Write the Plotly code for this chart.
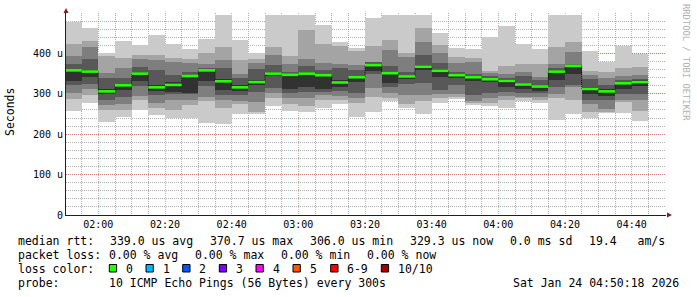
import plotly.graph_objects as go
import pandas as pd

# ---------------- data (values in microseconds) ----------------
end_times = ["01:55", "02:00", "02:05", "02:10", "02:15", "02:20", "02:25", "02:30",
             "02:35", "02:40", "02:45", "02:50", "02:55", "03:00", "03:05", "03:10",
             "03:15", "03:20", "03:25", "03:30", "03:35", "03:40", "03:45", "03:50",
             "03:55", "04:00", "04:05", "04:10", "04:15", "04:20", "04:25", "04:30",
             "04:35", "04:40", "04:45"]

# sorted ping ranks (1 = fastest, 10 = slowest)
ping_1 = [258, 278, 231, 243, 260, 247, 241, 240, 228, 225, 250, 250, 269, 258, 255, 266, 276, 243,
          255, 281, 264, 250, 278, 286, 272, 269, 266, 283, 278, 236, 251, 239, 253, 253, 233]
ping_2 = [286, 297, 260, 261, 284, 266, 260, 272, 283, 264, 275, 256, 290, 275, 270, 285, 285, 278,
          292, 290, 276, 283, 290, 292, 278, 278, 284, 290, 285, 290, 285, 256, 256, 280, 258]
ping_3 = [301, 311, 272, 274, 294, 278, 284, 284, 291, 285, 283, 280, 302, 290, 290, 297, 294, 289,
          315, 301, 297, 297, 300, 300, 283, 290, 294, 293, 293, 300, 316, 276, 262, 284, 284]
ping_4 = [321, 324, 284, 291, 320, 296, 299, 299, 320, 297, 297, 305, 315, 303, 305, 305, 307, 302,
          350, 318, 325, 326, 309, 321, 297, 302, 305, 301, 302, 318, 323, 284, 285, 300, 299]
ping_5 = [332, 342, 299, 309, 332, 307, 305, 303, 332, 309, 307, 322, 345, 311, 316, 311, 318, 330,
          357, 327, 337, 360, 342, 338, 332, 328, 318, 311, 308, 335, 349, 299, 294, 311, 319]
ping_6 = [360, 358, 313, 324, 355, 322, 329, 342, 360, 336, 322, 335, 355, 350, 353, 349, 335, 345,
          375, 355, 347, 371, 362, 349, 345, 340, 336, 327, 322, 360, 372, 316, 311, 328, 333]
ping_7 = [373, 385, 338, 338, 367, 360, 346, 353, 365, 363, 338, 362, 371, 355, 370, 360, 365, 360,
          378, 368, 355, 396, 377, 355, 350, 345, 340, 345, 335, 365, 373, 336, 322, 334, 337]
ping_8 = [393, 416, 352, 363, 385, 383, 379, 377, 375, 384, 350, 377, 395, 375, 385, 377, 375, 371,
          379, 408, 392, 429, 400, 376, 379, 352, 350, 353, 342, 374, 404, 346, 338, 344, 346]
ping_9 = [424, 430, 394, 389, 396, 396, 389, 385, 400, 416, 383, 387, 415, 393, 458, 424, 418, 406,
          418, 433, 400, 462, 420, 391, 388, 357, 368, 375, 375, 416, 429, 357, 355, 363, 367]
ping_10 = [478, 462, 401, 430, 420, 445, 424, 410, 435, 495, 433, 400, 495, 495, 495, 470, 429, 414,
           488, 496, 496, 496, 451, 414, 410, 441, 467, 423, 410, 496, 496, 407, 378, 419, 398]
median = [358, 355, 306, 321, 350, 316, 322, 344, 358, 331, 316, 329, 350, 347, 350, 346, 328, 341,
          371, 351, 343, 367, 357, 346, 341, 336, 332, 323, 318, 355, 369, 312, 306, 326, 329]

y_tick_vals = [0, 100, 200, 300, 400]
y_tick_text = ["0", "100 u", "200 u", "300 u", "400 u"]

legend_rtt = ["339.0 us avg", "370.7 us max", "306.0 us min", "329.3 us now", "0.0 ms sd", "19.4   am/s"]
legend_loss = ["0.00 % avg", "0.00 % max", "0.00 % min", "0.00 % now"]
loss_labels = ["0", "1", "2", "3", "4", "5", "6-9", "10/10"]
loss_colors = ["#26ff00", "#00b8ff", "#0059ff", "#7e00ff", "#ff00ff", "#ff5500", "#ff0000", "#a10000"]
probe_text = "10 ICMP Echo Pings (56 Bytes) every 300s"
stamp_text = "Sat Jan 24 04:50:18 2026"

# ---------------- figure ----------------
DAY = "2026-01-24 "
ends = pd.to_datetime([DAY + t for t in end_times])
starts = ends - pd.Timedelta(minutes=5)
STEP_MS = 300000

pings = [ping_1, ping_2, ping_3, ping_4, ping_5, ping_6, ping_7, ping_8, ping_9, ping_10]
smoke_colors = ["#cacaca", "#a4a4a4", "#7e7e7e", "#585858", "#323232"]

fig = go.Figure()
for i in range(5):
    lo = pings[i]
    hi = pings[9 - i]
    fig.add_trace(go.Bar(
        x=ends, base=lo, y=[h - l for h, l in zip(hi, lo)],
        width=STEP_MS, offset=-STEP_MS,
        marker=dict(color=smoke_colors[i], line=dict(width=0)),
        hoverinfo="skip", showlegend=False))

# dotted median steps (vertical connectors)
sx, sy = [], []
for k in range(len(median) - 1):
    sx += [ends[k], ends[k], None]
    sy += [median[k], median[k + 1], None]
fig.add_trace(go.Scatter(x=sx, y=sy, mode="lines",
                         line=dict(color="#101010", width=1, dash="1px,1px"),
                         hoverinfo="skip", showlegend=False))

# median bands (loss colour 0)
gx, gy = [], []
for k in range(len(median)):
    gx += [starts[k], ends[k], None]
    gy += [median[k], median[k], None]
fig.add_trace(go.Scatter(x=gx, y=gy, mode="lines",
                         line=dict(color=loss_colors[0], width=2.6),
                         hoverinfo="skip", showlegend=False))

L, T, W, H = 66, 13, 600, 202
FIGW, FIGH = 697, 297


def px(x):
    return (x - L) / W


def py(y):
    return (T + H - y) / H


MONO = "DejaVu Sans Mono"
GRID = "rgba(143,143,143,0.7)"
MGRID = "rgba(222,79,79,0.55)"
AXIS = "#1f1f1f"
ARROW = "#801f1f"

fig.update_layout(
    width=FIGW, height=FIGH,
    margin=dict(l=L, r=FIGW - L - W, t=T, b=FIGH - T - H),
    paper_bgcolor="white", plot_bgcolor="white",
    barmode="overlay", bargap=0,
    showlegend=False,
    font=dict(family=MONO, color="#000000", size=10),
)

fig.update_xaxes(
    type="date",
    range=[DAY + "01:50:18", DAY + "04:50:18"],
    tickformat="%H:%M", tick0=DAY + "02:00", dtick=1200000,
    showgrid=True, gridcolor=MGRID, griddash="1px,1px", gridwidth=1,
    minor=dict(dtick=STEP_MS, tick0=DAY + "02:00", showgrid=True,
               gridcolor=GRID, griddash="1px,1px", gridwidth=1),
    showline=True, linecolor=AXIS, linewidth=1,
    ticks="", tickfont=dict(family=MONO, size=10, color="#000000"),
    zeroline=False, fixedrange=True,
)
fig.update_yaxes(
    range=[0, 500],
    tickmode="array", tickvals=y_tick_vals, ticktext=y_tick_text,
    showgrid=True, gridcolor=MGRID, griddash="1px,1px", gridwidth=1,
    minor=dict(tickmode="linear", tick0=0, dtick=20, showgrid=True,
               gridcolor=GRID, griddash="1px,1px", gridwidth=1),
    showline=True, linecolor=AXIS, linewidth=1,
    ticks="", tickfont=dict(family=MONO, size=10, color="#000000"),
    zeroline=False, fixedrange=True,
)

shapes = []
# axis arrows
shapes.append(dict(type="path", xref="paper", yref="paper",
                   path=f"M {px(63.5)},{py(13)} L {px(68.5)},{py(13)} L {px(66)},{py(8)} Z",
                   fillcolor=ARROW, line=dict(width=0)))
shapes.append(dict(type="path", xref="paper", yref="paper",
                   path=f"M {px(667)},{py(212.5)} L {px(667)},{py(217.5)} L {px(672)},{py(215)} Z",
                   fillcolor=ARROW, line=dict(width=0)))

ann = []
LEG = dict(family=MONO, size=11.5, color="#000000")


def text(x, y, s, anchor="left", font=LEG):
    ann.append(dict(x=px(x), y=py(y), xref="paper", yref="paper", text=s,
                    showarrow=False, xanchor=anchor, yanchor="middle", font=font))


# y title
ann.append(dict(x=px(10), y=py(112), xref="paper", yref="paper", text="Seconds",
                showarrow=False, textangle=-90, xanchor="center", yanchor="middle", font=LEG))
# watermark
ann.append(dict(x=px(686), y=py(62), xref="paper", yref="paper", text="RRDTOOL / TOBI OETIKER",
                showarrow=False, textangle=90, xanchor="center", yanchor="middle",
                font=dict(family=MONO, size=8.8, color="#b0b0b0")))

# legend lines
text(16, 241, "median rtt:")
for s, x in zip(legend_rtt, [108, 208, 308, 408, 508, 587]):
    text(x, 241, s)
text(16, 255, "packet loss:")
for s, x in zip(legend_loss, [107, 193, 279, 365]):
    text(x, 255, s)
text(16, 269, "loss color:")
box_x = [109.3, 146, 182.7, 219.3, 256, 293, 330.7, 381.3]
for lab, col, bx in zip(loss_labels, loss_colors, box_x):
    shapes.append(dict(type="rect", xref="paper", yref="paper",
                       x0=px(bx), x1=px(bx + 7.3), y0=py(272), y1=py(264.5),
                       fillcolor=col, line=dict(color="#000000", width=1)))
    text(bx + 14.6, 269, lab)
text(16, 283, "probe:")
text(107, 283, probe_text)
text(681, 283, stamp_text, anchor="right")

fig.update_layout(shapes=shapes, annotations=ann)
fig.write_html("out.html")
